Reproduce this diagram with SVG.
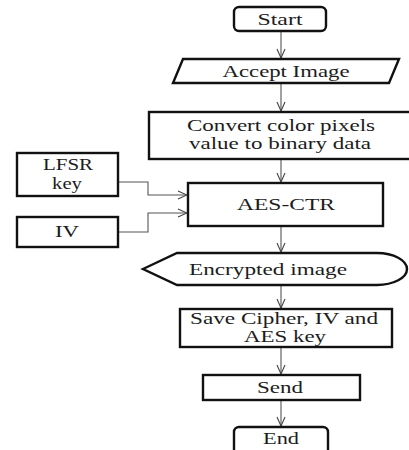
<svg xmlns="http://www.w3.org/2000/svg" width="409" height="450" viewBox="0 0 409 450">
  <style>
    .shape { fill: #ffffff; stroke: #111111; stroke-width: 2.4; }
    .label { font-family: "Liberation Serif", "Times New Roman", serif; font-size: 17px; fill: #1c1c1c; text-anchor: middle; }
    .label.small { font-size: 16px; }
    .conn { fill: none; stroke: #555555; stroke-width: 1.1; }
  </style>
  <defs>
    <marker id="arrow" viewBox="0 0 10 10" refX="10" refY="5" markerWidth="10" markerHeight="10" markerUnits="userSpaceOnUse" orient="auto">
      <path d="M1,1 L10,5 L1,9" fill="none" stroke="#444444" stroke-width="1.1"/>
    </marker>
  </defs>
  <rect width="409" height="450" fill="#ffffff"/>

  <!-- connectors -->
  <g id="connectors">
    <path class="conn" d="M281,31 V58" marker-end="url(#arrow)"/>
    <path class="conn" d="M281,83 V111" marker-end="url(#arrow)"/>
    <path class="conn" d="M281,159 V182" marker-end="url(#arrow)"/>
    <path class="conn" d="M281,226 V252" marker-end="url(#arrow)"/>
    <path class="conn" d="M281,285 V308" marker-end="url(#arrow)"/>
    <path class="conn" d="M281,347 V374" marker-end="url(#arrow)"/>
    <path class="conn" d="M281,400 V426" marker-end="url(#arrow)"/>
    <path class="conn" d="M118,182 H148 V195 H187" marker-end="url(#arrow)"/>
    <path class="conn" d="M118,232 H148 V213 H187" marker-end="url(#arrow)"/>
  </g>

  <g id="start">
    <rect class="shape" x="234" y="7" width="92" height="24" rx="5"/>
    <text class="label" x="280" y="25" textLength="45" lengthAdjust="spacingAndGlyphs">Start</text>
  </g>

  <g id="accept-image">
    <polygon class="shape" points="183,59 399,59 389,83 173,83"/>
    <text class="label" x="286" y="77" textLength="127" lengthAdjust="spacingAndGlyphs">Accept Image</text>
  </g>

  <g id="convert">
    <rect class="shape" x="149" y="112" width="264" height="47"/>
    <text class="label small" x="281" y="131" textLength="188" lengthAdjust="spacingAndGlyphs">Convert color pixels</text>
    <text class="label small" x="280" y="149" textLength="182" lengthAdjust="spacingAndGlyphs">value to binary data</text>
  </g>

  <g id="lfsr-key">
    <rect class="shape" x="17" y="153" width="101" height="43"/>
    <text class="label small" x="68" y="170" textLength="50" lengthAdjust="spacingAndGlyphs">LFSR</text>
    <text class="label small" x="67" y="189" textLength="30" lengthAdjust="spacingAndGlyphs">key</text>
  </g>

  <g id="iv">
    <rect class="shape" x="17" y="217" width="101" height="30"/>
    <text class="label" x="67" y="237" textLength="24" lengthAdjust="spacingAndGlyphs">IV</text>
  </g>

  <g id="aes-ctr">
    <rect class="shape" x="188" y="183" width="195" height="43"/>
    <text class="label" x="286" y="210" textLength="98" lengthAdjust="spacingAndGlyphs">AES-CTR</text>
  </g>

  <g id="encrypted-image">
    <path class="shape" d="M143,269 L177,253 H377 A30,16 0 0 1 377,285 H177 Z"/>
    <text class="label" x="268" y="275" textLength="158" lengthAdjust="spacingAndGlyphs">Encrypted image</text>
  </g>

  <g id="save">
    <rect class="shape" x="180" y="309" width="212" height="38"/>
    <text class="label small" x="284" y="324" textLength="188" lengthAdjust="spacingAndGlyphs">Save Cipher, IV and</text>
    <text class="label small" x="285" y="342" textLength="82" lengthAdjust="spacingAndGlyphs">AES key</text>
  </g>

  <g id="send">
    <rect class="shape" x="203" y="375" width="157" height="25"/>
    <text class="label" x="280" y="393" textLength="46" lengthAdjust="spacingAndGlyphs">Send</text>
  </g>

  <g id="end">
    <rect class="shape" x="234" y="427" width="94" height="28" rx="5"/>
    <text class="label" x="281" y="444" textLength="36" lengthAdjust="spacingAndGlyphs">End</text>
  </g>
</svg>
